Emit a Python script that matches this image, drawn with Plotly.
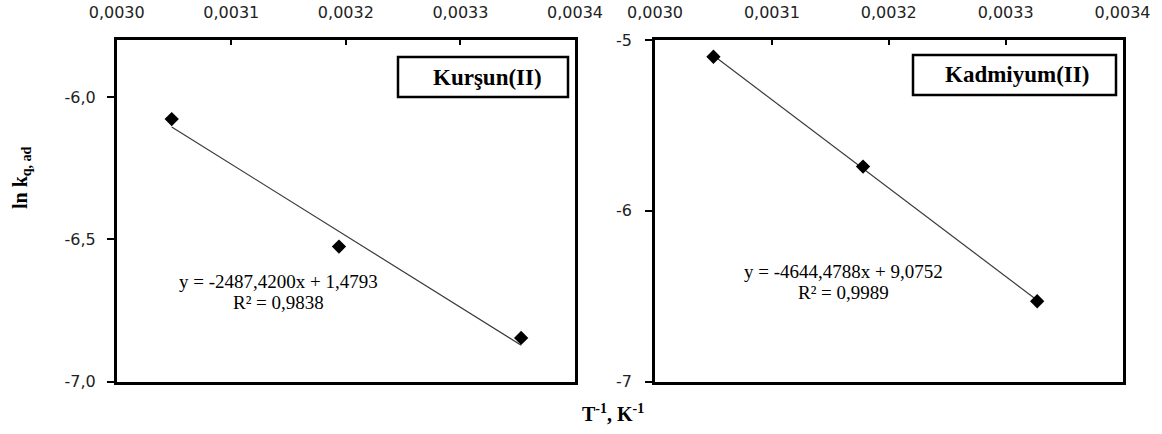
import numpy as np
import plotly.graph_objects as go

W, H = 1162, 434

# ---- data ----
pb_x = [0.003048, 0.003194, 0.003353]
pb_y = [-6.078, -6.526, -6.847]
cd_x = [0.003050, 0.003178, 0.003327]
cd_y = [-5.098, -5.741, -6.530]

panel_names = ["Kurşun(II)", "Kadmiyum(II)"]
equations = ["y = -2487,4200x + 1,4793", "y = -4644,4788x + 9,0752"]
r2_texts = ["R² = 0,9838", "R² = 0,9989"]
x_ticks = [0.0030, 0.0031, 0.0032, 0.0033, 0.0034]
x_tick_text = ["0,0030", "0,0031", "0,0032", "0,0033", "0,0034"]
y_ticks_pb = [-7.0, -6.5, -6.0]
y_tick_text_pb = ["-7,0", "-6,5", "-6,0"]
y_ticks_cd = [-7, -6, -5]
y_tick_text_cd = ["-7", "-6", "-5"]

def px(x):
    return x / W

def py(y):
    return 1 - y / H

fig = go.Figure()

series = [(pb_x, pb_y, "x", "y"), (cd_x, cd_y, "x2", "y2")]
for xs, ys, xa, ya in series:
    a, b = np.polyfit(xs, ys, 1)
    xl = np.array([min(xs), max(xs)])
    fig.add_trace(go.Scatter(x=xl, y=a * xl + b, mode="lines", xaxis=xa, yaxis=ya,
                             line=dict(color="#3a3a3a", width=1.2), showlegend=False,
                             hoverinfo="skip"))
    fig.add_trace(go.Scatter(x=xs, y=ys, mode="markers", xaxis=xa, yaxis=ya,
                             marker=dict(symbol="diamond", size=11, color="black"),
                             showlegend=False))

tickfont = dict(family="DejaVu Sans", size=16, color="#222")
xcommon = dict(side="top", range=[0.0030, 0.0034], tickvals=x_ticks, ticktext=x_tick_text,
               ticks="inside", ticklen=5, tickwidth=1.5, tickcolor="black",
               showline=True, linewidth=2.5, linecolor="black", mirror=True,
               showgrid=False, zeroline=False, tickfont=tickfont, ticklabelstandoff=13,
               automargin=False)
ycommon = dict(ticks="outside", ticklen=7, tickwidth=1.5, tickcolor="black",
               showline=True, linewidth=2.5, linecolor="black", mirror=True,
               showgrid=False, zeroline=False, tickfont=tickfont, automargin=False)

d1 = [px(116.7), px(575)]
d2 = [px(655), px(1122.5)]
dy = [py(381.5), py(40)]

fig.update_layout(
    width=W, height=H,
    margin=dict(l=0, r=0, t=0, b=0, autoexpand=False),
    paper_bgcolor="white", plot_bgcolor="white",
    xaxis=dict(domain=d1, anchor="y", **xcommon),
    yaxis=dict(domain=dy, anchor="x", range=[-7.0, -5.8], tickvals=y_ticks_pb,
               ticktext=y_tick_text_pb, ticklabelstandoff=8, **ycommon),
    xaxis2=dict(domain=d2, anchor="y2", **xcommon),
    yaxis2=dict(domain=dy, anchor="x2", range=[-7, -5], tickvals=y_ticks_cd,
                ticktext=y_tick_text_cd, ticklabelstandoff=10, **ycommon),
)

serif = "Liberation Serif"
# legend-like boxes
boxes = [(398, 57, 568, 97, 487), (913, 55, 1116, 95, 1017)]
for (x0, y0, x1, y1, xc), name in zip(boxes, panel_names):
    fig.add_shape(type="rect", xref="paper", yref="paper",
                  x0=px(x0), x1=px(x1), y0=py(y1), y1=py(y0),
                  line=dict(color="black", width=2.5), fillcolor="white")
    fig.add_annotation(xref="paper", yref="paper", x=px(xc), y=py((y0 + y1) / 2),
                       text="<b>" + name + "</b>", showarrow=False,
                       yanchor="middle", xanchor="center",
                       font=dict(family=serif, size=23, color="black"))

# equations
eq_pos = [(278, 281, 302), (843, 271, 292)]
for (xc, ye, yr), eq, r2 in zip(eq_pos, equations, r2_texts):
    fig.add_annotation(xref="paper", yref="paper", x=px(xc), y=py(ye), text=eq,
                       showarrow=False, yanchor="middle", xanchor="center",
                       font=dict(family=serif, size=19, color="black"))
    fig.add_annotation(xref="paper", yref="paper", x=px(xc), y=py(yr), text=r2,
                       showarrow=False, yanchor="middle", xanchor="center",
                       font=dict(family=serif, size=19, color="black"))

# axis titles
fig.add_annotation(xref="paper", yref="paper", x=px(21), y=py(178),
                   text="<b>ln k<sub>q, ad</sub></b>", textangle=-90, showarrow=False,
                   xanchor="center", yanchor="middle",
                   font=dict(family=serif, size=20, color="black"))
fig.add_annotation(xref="paper", yref="paper", x=px(613), y=py(413),
                   text="<b>T<sup>-1</sup>, K<sup>-1</sup></b>", showarrow=False,
                   xanchor="center", yanchor="middle",
                   font=dict(family=serif, size=20, color="black"))

fig.write_html("out.html", config={"displayModeBar": False},
               post_script="document.body.style.margin='0';")
